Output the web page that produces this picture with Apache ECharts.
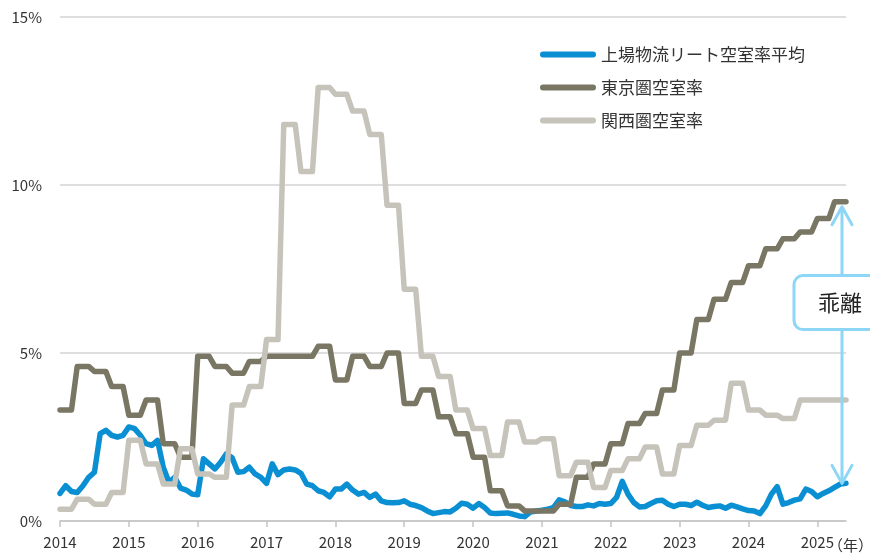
<!DOCTYPE html>
<html>
<head>
<meta charset="utf-8">
<script src="https://cdn.jsdelivr.net/npm/echarts@6/dist/echarts.min.js"></script>
<style>
html, body { margin: 0; padding: 0; background: #fff; }
#chart { width: 870px; height: 555px; }
</style>
</head>
<body>
<div id="chart"></div>
<script>
// 月次 2014/01 - 2025/06
const years = [2014, 2015, 2016, 2017, 2018, 2019, 2020, 2021, 2022, 2023, 2024, 2025]
const lastMonth = 6
const months = []
years.forEach(y => {
  const n = y === 2025 ? lastMonth : 12
  for (let m = 1; m <= n; m++) months.push(y + '/' + m)
})

const names = ['上場物流リート空室率平均', '東京圏空室率', '関西圏空室率']

// 上場物流リート空室率平均 (%)
const reit = [
  0.82, 1.05, 0.88, 0.85, 1.05, 1.3, 1.45, 2.6, 2.7, 2.55, 2.5, 2.55,
  2.8, 2.75, 2.55, 2.3, 2.25, 2.4, 1.6, 1.15, 1.3, 0.98, 0.92, 0.8,
  0.78, 1.85, 1.7, 1.55, 1.75, 2.0, 1.88, 1.45, 1.47, 1.6, 1.4, 1.3,
  1.12, 1.7, 1.38, 1.52, 1.55, 1.52, 1.42, 1.1, 1.05, 0.9, 0.85, 0.72,
  0.95, 0.95, 1.1, 0.92, 0.8, 0.85, 0.7, 0.8, 0.6, 0.55, 0.54, 0.55,
  0.6, 0.5, 0.46, 0.4, 0.3, 0.22, 0.25, 0.28, 0.27, 0.38, 0.53, 0.5,
  0.38, 0.52, 0.4, 0.24, 0.22, 0.23, 0.24, 0.2, 0.15, 0.13, 0.27, 0.3,
  0.32, 0.35, 0.4, 0.63, 0.57, 0.46, 0.43, 0.43, 0.48, 0.45, 0.52, 0.5,
  0.52, 0.7, 1.18, 0.8, 0.55, 0.42, 0.43, 0.52, 0.6, 0.62, 0.5, 0.43,
  0.5, 0.5, 0.46, 0.56, 0.47, 0.4, 0.43, 0.45, 0.38, 0.47, 0.42, 0.36,
  0.31, 0.3, 0.22, 0.45, 0.8, 1.02, 0.5, 0.55, 0.62, 0.66, 0.95, 0.88,
  0.72, 0.82, 0.9, 1.0, 1.1, 1.12
]

// 東京圏空室率 (%)
const tokyo = [
  3.3, 3.3, 3.3, 4.6, 4.6, 4.6, 4.45, 4.45, 4.45, 4.0, 4.0, 4.0,
  3.15, 3.15, 3.15, 3.6, 3.6, 3.6, 2.3, 2.3, 2.3, 1.9, 1.9, 1.9,
  4.9, 4.9, 4.9, 4.6, 4.6, 4.6, 4.4, 4.4, 4.4, 4.75, 4.75, 4.75,
  4.9, 4.9, 4.9, 4.9, 4.9, 4.9, 4.9, 4.9, 4.9, 5.2, 5.2, 5.2,
  4.2, 4.2, 4.2, 4.9, 4.9, 4.9, 4.6, 4.6, 4.6, 5.0, 5.0, 5.0,
  3.5, 3.5, 3.5, 3.9, 3.9, 3.9, 3.1, 3.1, 3.1, 2.6, 2.6, 2.6,
  1.9, 1.9, 1.9, 0.9, 0.9, 0.9, 0.45, 0.45, 0.45, 0.3, 0.3, 0.3,
  0.3, 0.3, 0.3, 0.5, 0.5, 0.5, 1.3, 1.3, 1.3, 1.7, 1.7, 1.7,
  2.3, 2.3, 2.3, 2.9, 2.9, 2.9, 3.2, 3.2, 3.2, 3.9, 3.9, 3.9,
  5.0, 5.0, 5.0, 6.0, 6.0, 6.0, 6.6, 6.6, 6.6, 7.1, 7.1, 7.1,
  7.6, 7.6, 7.6, 8.1, 8.1, 8.1, 8.4, 8.4, 8.4, 8.6, 8.6, 8.6,
  9.0, 9.0, 9.0, 9.5, 9.5, 9.5
]

// 関西圏空室率 (%)
const kansai = [
  0.35, 0.35, 0.35, 0.65, 0.65, 0.65, 0.5, 0.5, 0.5, 0.85, 0.85, 0.85,
  2.4, 2.4, 2.4, 1.7, 1.7, 1.7, 1.1, 1.1, 1.1, 2.15, 2.15, 2.15,
  1.4, 1.4, 1.4, 1.3, 1.3, 1.3, 3.45, 3.45, 3.45, 4.0, 4.0, 4.0,
  5.4, 5.4, 5.4, 11.8, 11.8, 11.8, 10.4, 10.4, 10.4, 12.9, 12.9, 12.9,
  12.7, 12.7, 12.7, 12.2, 12.2, 12.2, 11.5, 11.5, 11.5, 9.4, 9.4, 9.4,
  6.9, 6.9, 6.9, 4.9, 4.9, 4.9, 4.3, 4.3, 4.3, 3.3, 3.3, 3.3,
  2.75, 2.75, 2.75, 1.95, 1.95, 1.95, 2.95, 2.95, 2.95, 2.35, 2.35, 2.35,
  2.45, 2.45, 2.45, 1.35, 1.35, 1.35, 1.75, 1.75, 1.75, 1.0, 1.0, 1.0,
  1.5, 1.5, 1.5, 1.85, 1.85, 1.85, 2.2, 2.2, 2.2, 1.4, 1.4, 1.4,
  2.25, 2.25, 2.25, 2.85, 2.85, 2.85, 3.0, 3.0, 3.0, 4.1, 4.1, 4.1,
  3.3, 3.3, 3.3, 3.15, 3.15, 3.15, 3.05, 3.05, 3.05, 3.6, 3.6, 3.6,
  3.6, 3.6, 3.6, 3.6, 3.6, 3.6
]

const colors = ['#0a8fd2', '#7a7664', '#c6c4ba']
const arrowColor = '#8dd6f6'
const font = '"Noto Sans CJK JP", "Noto Sans", sans-serif'

const chart = echarts.init(document.getElementById('chart'))

const isJan = (i) => i % 12 === 0

const option = {
  animation: false,
  color: colors,
  textStyle: { fontFamily: font },
  grid: { left: 60, right: 24, top: 17, bottom: 34, outerBoundsMode: 'none', containLabel: false },
  legend: {
    orient: 'vertical',
    left: 535,
    top: 41,
    itemWidth: 56,
    itemHeight: 6,
    itemGap: 16,
    icon: 'path://M3 0H53A3 3 0 0 1 53 6H3A3 3 0 0 1 3 0Z',
    textStyle: { fontSize: 17, color: '#333', fontFamily: font },
    data: names
  },
  xAxis: {
    type: 'category',
    data: months,
    boundaryGap: false,
    name: '（年）',
    nameLocation: 'end',
    nameGap: -18,
    nameMoveOverlap: false,
    nameTextStyle: { fontSize: 15, color: '#333', verticalAlign: 'top', padding: [17, 0, 0, 0] },
    axisLine: { lineStyle: { color: '#c3c3c3', width: 1.5 } },
    axisTick: { interval: isJan, length: 6, lineStyle: { color: '#c3c3c3', width: 1.5 } },
    axisLabel: {
      interval: isJan,
      margin: 14,
      fontSize: 15,
      color: '#333',
      formatter: (v) => v.split('/')[0]
    }
  },
  yAxis: {
    type: 'value',
    min: 0,
    max: 15,
    interval: 5,
    axisLine: { show: false },
    axisTick: { show: false },
    axisLabel: { formatter: '{value}%', fontSize: 15, color: '#333', margin: 18 },
    splitLine: { lineStyle: { color: '#d3d3d3', width: 1.5 } }
  },
  series: [
    { name: names[0], type: 'line', data: reit },
    { name: names[1], type: 'line', data: tokyo },
    { name: names[2], type: 'line', data: kansai }
  ].map(s => Object.assign(s, {
    symbol: 'none',
    showSymbol: false,
    lineStyle: { width: 5.5, join: 'round', cap: 'round' }
  }))
}

chart.setOption(option)

// 乖離の矢印（東京圏と上場物流リートの最新値の間）
const last = months.length - 1
const pA = chart.convertToPixel({ gridIndex: 0 }, [last - 1, tokyo[last]])
const pB = chart.convertToPixel({ gridIndex: 0 }, [last, reit[last]])
const ax = Math.round((pA[0] + 2 * pB[0]) / 3) - 2
const yTop = pA[1] + 5
const yBot = pB[1]
const boxMid = chart.convertToPixel({ gridIndex: 0 }, [last, 6.5])[1]
const head = 18, half = 10

chart.setOption({
  graphic: [
    {
      type: 'polyline', z: 100,
      shape: { points: [[ax, yTop], [ax, yBot]] },
      style: { stroke: arrowColor, lineWidth: 3 }
    },
    {
      type: 'polyline', z: 100,
      shape: { points: [[ax - half, yTop + head], [ax, yTop], [ax + half, yTop + head]] },
      style: { stroke: arrowColor, lineWidth: 3, lineCap: 'round', lineJoin: 'round', fill: null }
    },
    {
      type: 'polyline', z: 100,
      shape: { points: [[ax - half, yBot - head], [ax, yBot], [ax + half, yBot - head]] },
      style: { stroke: arrowColor, lineWidth: 3, lineCap: 'round', lineJoin: 'round', fill: null }
    },
    {
      type: 'rect', z: 101,
      shape: { x: ax - 48, y: boxMid - 27, width: 110, height: 54, r: 9 },
      style: { fill: '#fff', stroke: arrowColor, lineWidth: 3 }
    },
    {
      type: 'text', z: 102,
      x: ax - 2, y: boxMid,
      style: {
        text: '乖離', fontSize: 22, fill: '#222', fontFamily: font,
        align: 'center', verticalAlign: 'middle'
      }
    }
  ]
})
</script>
</body>
</html>
